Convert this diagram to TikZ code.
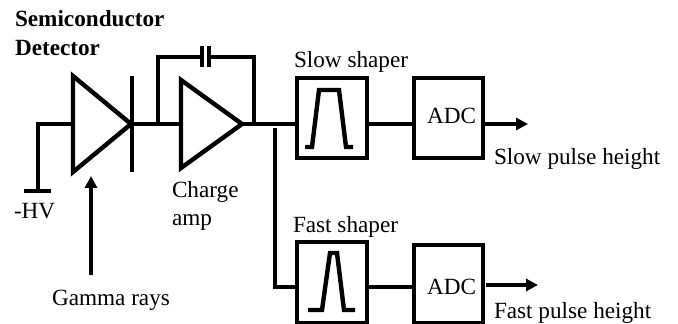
\documentclass[tikz,border=0pt]{standalone}
\usepackage{fontspec}
\setmainfont{Liberation Serif}
\usetikzlibrary{arrows.meta}
\tikzset{
  wire/.style={line width=2.8pt,line join=miter,line cap=butt},
  sym/.style={line width=3.3pt,line join=miter},
  bx/.style={draw,line width=3pt,inner sep=0pt,outer sep=0pt},
  arr/.style={wire,-{Triangle[length=9pt,width=9pt]}},
  lbl/.style={anchor=base west,inner sep=0pt,outer sep=0pt,font=\fontsize{17.4pt}{20pt}\selectfont},
  blbl/.style={lbl,font=\fontsize{17.4pt}{20pt}\selectfont\bfseries},
}
\begin{document}
\begin{tikzpicture}[x=0.75pt,y=-0.75pt]
\useasboundingbox (0,0) rectangle (678,324);
\clip (0,0) rectangle (678,324);
% named points
\coordinate (dA) at (73,76);
\coordinate (dB) at (73,172);
\coordinate (dT) at (131,124);
\coordinate (dL) at (73,124);
\coordinate (barT) at (132,76);
\coordinate (barB) at (132,172);
\coordinate (hvC) at (38,124);
\coordinate (hv) at (38,191);
\coordinate (hvL) at (24,191);
\coordinate (hvR) at (51,191);
\coordinate (aA) at (181,80);
\coordinate (aB) at (181,168);
\coordinate (aT) at (242,124);
\coordinate (aL) at (181,124);
\coordinate (fbJ) at (158,124);
\coordinate (fbT) at (158,57);
\coordinate (capL) at (202,57);
\coordinate (capR) at (209,57);
\coordinate (capLt) at (202,46);
\coordinate (capLb) at (202,67);
\coordinate (capRt) at (209,46);
\coordinate (capRb) at (209,67);
\coordinate (fbR) at (254,57);
\coordinate (fbO) at (254,124);
\coordinate (brT) at (275,128);
\coordinate (brB) at (275,287);
\coordinate (gS) at (91,275);
\coordinate (gE) at (91,176);
\coordinate (so) at (528,124);
\coordinate (fo) at (538,285);
\coordinate (foS) at (486,285);
% boxes
\node[bx,minimum width=52pt,minimum height=60pt] (slow) at (332,118.5) {};
\node[bx,minimum width=52pt,minimum height=60pt] (sadc) at (448.5,118.5) {};
\node[bx,minimum width=52pt,minimum height=61pt] (fast) at (332,282.5) {};
\node[bx,minimum width=52pt,minimum height=59pt] (fadc) at (448.5,284) {};
% diode
\draw[sym] (dA) -- (dT) -- (dB) -- cycle;
\draw[sym] (barT) -- (barB);
\draw[wire] (dL) -- (hvC) -- (hv);
\draw[line width=3.5pt] (hvL) -- (hvR);
\draw[wire] (barT |- dT) -- (aL);
% amp
\draw[sym] (aA) -- (aT) -- (aB) -- cycle;
\draw[wire] (fbJ) -- (fbT) -- (capL);
\draw[wire] (capR) -- (fbR) -- (fbO);
\draw[line width=3pt] (capLt) -- (capLb);
\draw[line width=3pt] (capRt) -- (capRb);
% signal path
\draw[wire] (aT) -- (aT -| slow.west);
\draw[wire] (aT -| slow.east) -- (aT -| sadc.west);
\draw[arr] (aT -| sadc.east) -- (so);
\draw[wire] (brT) -- (brB) -- (brB -| fast.west);
\draw[wire] (brB -| fast.east) -- (brB -| fadc.west);
\draw[arr] (foS) -- (fo);
\draw[arr] (gS) -- (gE);
% pulses
\draw[sym] (305,147) -- (312,147) -- (319,90) -- (339,90) -- (346,147) -- (353,147);
\draw[sym] (308,310) -- (322,310) -- (330,253) -- (337,253) -- (344,310) -- (355,310);
% text
\node[blbl] (t1) at (15,27) {Semiconductor};
\node[blbl] (t2) at (15,55.5) {Detector};
\node[lbl] (t3) at (14,219) {-HV};
\node[lbl] (t4) at (172,197) {Charge};
\node[lbl] (t5) at (172,225) {amp};
\node[lbl] (t6) at (52,305) {Gamma rays};
\node[lbl] (t7) at (294,68) {Slow shaper};
\node[lbl] (t8) at (293,233) {Fast shaper};
\node[lbl] (t9) at (427,124) {ADC};
\node[lbl] (t10) at (427,294) {ADC};
\node[lbl] (t11) at (494,165) {Slow pulse height};
\node[lbl] (t12) at (494,318.5) {Fast pulse height};
\end{tikzpicture}
\end{document}
